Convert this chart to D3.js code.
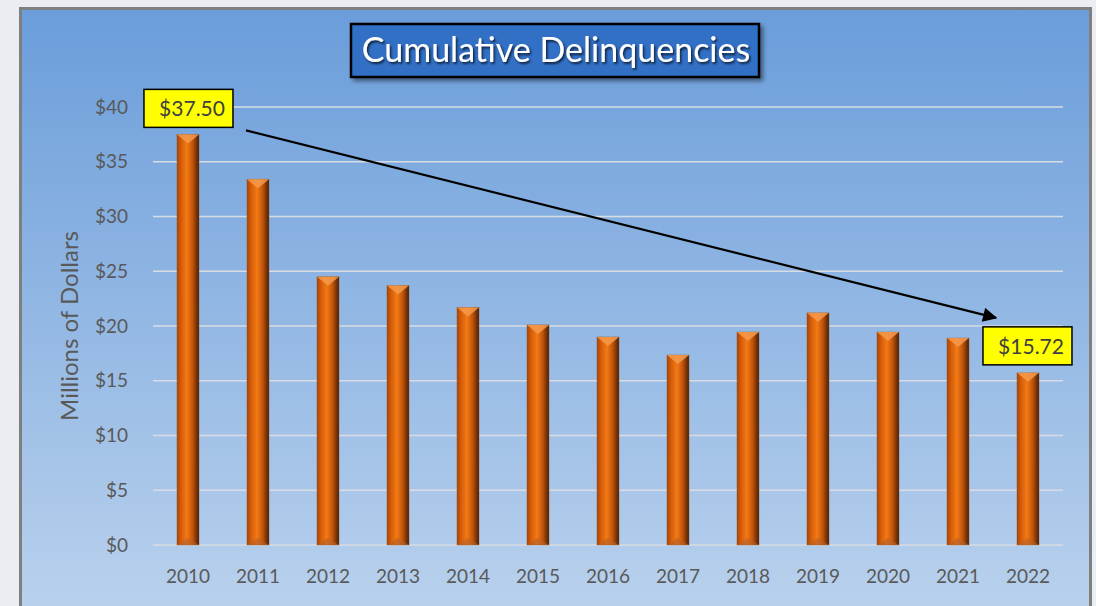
<!DOCTYPE html>
<html>
<head>
<meta charset="utf-8">
<script src="https://cdn.jsdelivr.net/npm/d3@7"></script>
<style>
  body { margin: 0; background: #eaedf1; }
  svg { display: block; }
</style>
</head>
<body>
<div id="chart"></div>
<script>
// data
let years = ["2010", "2011", "2012", "2013", "2014", "2015", "2016", "2017", "2018", "2019", "2020", "2021", "2022"];
let delinquencies = [37.50, 33.4, 24.5, 23.7, 21.7, 20.1, 19.0, 17.35, 19.45, 21.2, 19.45, 18.9, 15.72];
let yTicks = [0, 5, 10, 15, 20, 25, 30, 35, 40];
let calloutYears = ["2010", "2022"];

let W = 1096, H = 606;
let margin = { top: 107, left: 153, right: 33, bottom: 61 };

let svg = d3.select("#chart").append("svg")
    .attr("width", W)
    .attr("height", H);

let defs = svg.append("defs");

// background panel gradient
let bg = defs.append("linearGradient").attr("id", "bg")
    .attr("x1", 0).attr("y1", 0).attr("x2", 0).attr("y2", 1);
bg.append("stop").attr("offset", "0%").attr("stop-color", "#6a9dda");
bg.append("stop").attr("offset", "100%").attr("stop-color", "#b9d1ed");

// bar cylinder look
let barGrad = defs.append("linearGradient").attr("id", "barGrad")
    .attr("x1", 0).attr("y1", 0).attr("x2", 1).attr("y2", 0);
barGrad.append("stop").attr("offset", "0%").attr("stop-color", "#a84405");
barGrad.append("stop").attr("offset", "20%").attr("stop-color", "#d85e08");
barGrad.append("stop").attr("offset", "45%").attr("stop-color", "#f27a16");
barGrad.append("stop").attr("offset", "70%").attr("stop-color", "#c4560a");
barGrad.append("stop").attr("offset", "100%").attr("stop-color", "#4a1e04");

let shadow = defs.append("filter").attr("id", "shadow")
    .attr("x", "-10%").attr("y", "-20%").attr("width", "130%").attr("height", "160%");
shadow.append("feDropShadow").attr("dx", 3).attr("dy", 3).attr("stdDeviation", 2)
    .attr("flood-color", "#000").attr("flood-opacity", 0.45);

let textShadow = defs.append("filter").attr("id", "tshadow")
    .attr("x", "-5%").attr("y", "-20%").attr("width", "110%").attr("height", "150%");
textShadow.append("feDropShadow").attr("dx", 1.5).attr("dy", 2).attr("stdDeviation", 1)
    .attr("flood-color", "#000").attr("flood-opacity", 0.7);

defs.append("marker").attr("id", "arrow")
    .attr("viewBox", "0 0 10 10")
    .attr("refX", 9).attr("refY", 5)
    .attr("markerWidth", 8).attr("markerHeight", 6.5)
    .attr("orient", "auto")
    .append("path").attr("d", "M0,0 L10,5 L0,10 Z").attr("fill", "#000");

// panel
svg.append("rect")
    .attr("x", 20.5).attr("y", 8.5)
    .attr("width", 1070).attr("height", 600)
    .attr("fill", "url(#bg)")
    .attr("stroke", "#7f7f7f")
    .attr("stroke-width", 3);

let x = d3.scaleBand()
    .domain(years)
    .range([margin.left, W - margin.right])
    .paddingInner(0.685)
    .paddingOuter(0.3425);

let y = d3.scaleLinear()
    .domain([0, 40])
    .range([H - margin.bottom, margin.top]);

let font = "Lato, 'Open Sans', sans-serif";

// gridlines
svg.append("g")
    .selectAll("line")
    .data(yTicks)
    .enter()
    .append("line")
    .attr("x1", margin.left)
    .attr("x2", W - margin.right)
    .attr("y1", d => y(d))
    .attr("y2", d => y(d))
    .attr("stroke", "#d9dde3")
    .attr("stroke-width", 1.5);

// y axis
let yAxis = svg.append("g")
    .attr("transform", "translate(" + (margin.left - 22) + ",0)")
    .call(d3.axisLeft(y).tickValues(yTicks).tickFormat(d => "$" + d).tickSize(0));
yAxis.select(".domain").remove();
yAxis.selectAll("text")
    .attr("fill", "#595959")
    .style("font-family", font)
    .style("font-size", "19px");

// x axis
let xAxis = svg.append("g")
    .attr("transform", "translate(0," + (H - margin.bottom + 16) + ")")
    .call(d3.axisBottom(x).tickSize(0));
xAxis.select(".domain").remove();
xAxis.selectAll("text")
    .attr("fill", "#595959")
    .attr("dy", "1em")
    .style("font-family", font)
    .style("font-size", "19px");

// axis title
svg.append("text")
    .attr("transform", "translate(78," + ((margin.top + H - margin.bottom) / 2) + ") rotate(-90)")
    .attr("text-anchor", "middle")
    .attr("fill", "#595959")
    .style("font-family", font)
    .style("font-size", "24px")
    .text("Millions of Dollars");

// bars
let bars = svg.append("g")
    .selectAll("g")
    .data(years.map((yr, i) => ({ year: yr, value: delinquencies[i] })))
    .enter()
    .append("g");

bars.append("rect")
    .attr("x", d => x(d.year))
    .attr("y", d => y(d.value))
    .attr("width", x.bandwidth())
    .attr("height", d => y(0) - y(d.value))
    .attr("fill", "url(#barGrad)")
    .attr("stroke", "#8a5a3a")
    .attr("stroke-opacity", 0.5)
    .attr("stroke-width", 0.8);

// top bevel
bars.append("path")
    .attr("d", d => {
        let x0 = x(d.year), x1 = x0 + x.bandwidth(), t = y(d.value), bw = x.bandwidth();
        return "M" + x0 + "," + t + " L" + x1 + "," + t + " L" + (x0 + bw / 2) + "," + (t + 9) + " Z";
    })
    .attr("fill", "#f59a4c")
    .attr("opacity", 0.85);

// bottom bevel
bars.append("path")
    .attr("d", d => {
        let x0 = x(d.year), x1 = x0 + x.bandwidth(), b = y(0), bw = x.bandwidth();
        return "M" + x0 + "," + b + " L" + x1 + "," + b + " L" + (x0 + bw / 2) + "," + (b - 7) + " Z";
    })
    .attr("fill", "#b4602a")
    .attr("opacity", 0.6);

// title box
let titleG = svg.append("g");
titleG.append("rect")
    .attr("x", 351).attr("y", 24)
    .attr("width", 408).attr("height", 53)
    .attr("fill", "#3070c6")
    .attr("stroke", "#000")
    .attr("stroke-width", 2.5)
    .attr("filter", "url(#shadow)");
titleG.append("text")
    .attr("x", 556).attr("y", 62)
    .attr("text-anchor", "middle")
    .attr("fill", "#fff")
    .attr("filter", "url(#tshadow)")
    .style("font-family", font)
    .style("font-size", "34px")
    .text("Cumulative Delinquencies");

// trend arrow from first callout to last
let first = calloutYears[0], last = calloutYears[1];
let vFirst = delinquencies[years.indexOf(first)], vLast = delinquencies[years.indexOf(last)];
svg.append("line")
    .attr("x1", x(first) + x.bandwidth() + 47)
    .attr("y1", y(vFirst) - 4)
    .attr("x2", x(last) - 21)
    .attr("y2", y(vLast) - 55)
    .attr("stroke", "#000")
    .attr("stroke-width", 2.2)
    .attr("marker-end", "url(#arrow)");

// value callouts
let callouts = [
    { year: first, value: vFirst, dx: -33, dy: -45 },
    { year: last, value: vLast, dx: -34, dy: -46 }
];
let cg = svg.append("g").selectAll("g")
    .data(callouts)
    .enter()
    .append("g")
    .attr("transform", d => "translate(" + (x(d.year) + d.dx) + "," + (y(d.value) + d.dy) + ")");
cg.append("rect")
    .attr("width", 89).attr("height", 38)
    .attr("fill", "#ffff00")
    .attr("stroke", "#000")
    .attr("stroke-width", 1.5);
cg.append("text")
    .attr("x", 81).attr("y", 27)
    .attr("text-anchor", "end")
    .attr("fill", "#404040")
    .style("font-family", font)
    .style("font-size", "21px")
    .text(d => "$" + d3.format(".2f")(d.value));
</script>
</body>
</html>
